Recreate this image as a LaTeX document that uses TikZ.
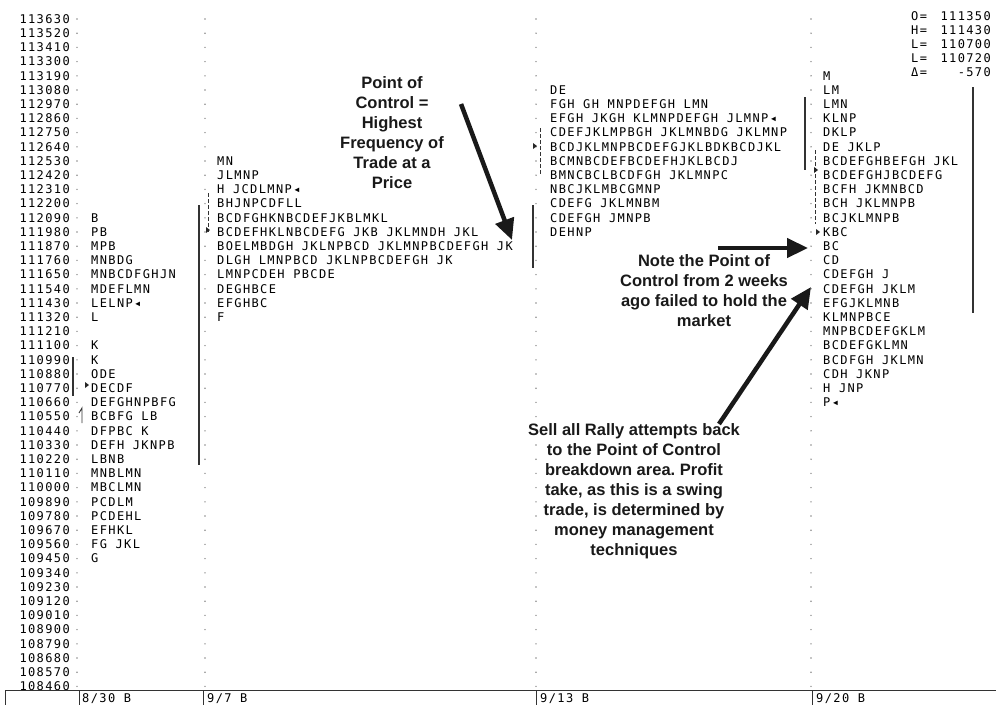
\documentclass[tikz,border=0pt]{standalone}
\usepackage{fontspec}
\usepackage{tikz}
\usetikzlibrary{arrows.meta}
\newfontfamily\chartfont[LetterSpace=11.5]{DejaVu Sans Mono}
\newfontfamily\notefont{Liberation Sans}

\begin{document}
\begin{tikzpicture}[x=1pt, y=-1pt,
    tpo/.style={font=\chartfont\fontsize{12}{12}\selectfont, inner sep=0pt, anchor=base west, text=black},
    price/.style={tpo, anchor=base east},
    note/.style={font=\notefont\bfseries\fontsize{16.5}{20}\selectfont\frenchspacing, align=center, inner sep=0pt, text=black!90},
    bigarrow/.style={-{Triangle[length=21pt, width=19pt]}, line width=4.5pt, black!90},
    vabar/.style={line width=1.8pt, black!80},
    tick/.style={black!45}]

\useasboundingbox (0,0) rectangle (996,705);

% price ladder and row ticks
\foreach \i in {0,...,47} {
    \node[price] (p\i) at (70, {19+14.2*\i+4.3}) {\the\numexpr113630-110*\i\relax};
    \fill[tick] (77, {19+14.2*\i}) circle (0.8);
    \fill[tick] (205, {19+14.2*\i}) circle (0.8);
    \fill[tick] (536, {19+14.2*\i}) circle (0.8);
    \fill[tick] (811, {19+14.2*\i}) circle (0.8);
}

% 8/30
\foreach \i/\t in {14/B, 15/PB, 16/MPB, 17/MNBDG, 18/MNBCDFGHJN, 19/MDEFLMN, 20/LELNP◂, 21/L,
    23/K, 24/K, 25/ODE, 26/DECDF, 27/DEFGHNPBFG, 28/BCBFG LB, 29/DFPBC K, 30/DEFH JKNPB,
    31/LBNB, 32/MNBLMN, 33/MBCLMN, 34/PCDLM, 35/PCDEHL, 36/EFHKL, 37/FG JKL, 38/G}
    \node[tpo] (c1-\i) at (91, {19+14.2*\i+4.3}) {\t};

% 9/7
\foreach \t [count=\i from 10] in {MN, JLMNP, H JCDLMNP◂, BHJNPCDFLL, BCDFGHKNBCDEFJKBLMKL,
    BCDEFHKLNBCDEFG JKB JKLMNDH JKL, BOELMBDGH JKLNPBCD JKLMNPBCDEFGH JK,
    DLGH LMNPBCD JKLNPBCDEFGH JK, LMNPCDEH PBCDE, DEGHBCE, EFGHBC, F}
    \node[tpo] (c2-\i) at (217, {19+14.2*\i+4.3}) {\t};

% 9/13
\foreach \t [count=\i from 5] in {DE, FGH GH MNPDEFGH LMN, EFGH JKGH KLMNPDEFGH JLMNP◂,
    CDEFJKLMPBGH JKLMNBDG JKLMNP, BCDJKLMNPBCDEFGJKLBDKBCDJKL, BCMNBCDEFBCDEFHJKLBCDJ,
    BMNCBCLBCDFGH JKLMNPC, NBCJKLMBCGMNP, CDEFG JKLMNBM, CDEFGH JMNPB, DEHNP}
    \node[tpo] (c3-\i) at (550, {19+14.2*\i+4.3}) {\t};

% 9/20
\foreach \t [count=\i from 4] in {M, LM, LMN, KLNP, DKLP, DE JKLP, BCDEFGHBEFGH JKL,
    BCDEFGHJBCDEFG, BCFH JKMNBCD, BCH JKLMNPB, BCJKLMNPB, KBC, BC, CD, CDEFGH J,
    CDEFGH JKLM, EFGJKLMNB, KLMNPBCE, MNPBCDEFGKLM, BCDEFGKLMN, BCDFGH JKLMN,
    CDH JKNP, H JNP, P◂}
    \node[tpo] (c4-\i) at (823, {19+14.2*\i+4.3}) {\t};

% summary
\foreach \k/\v [count=\i from 0] in {O=/111350, H=/111430, L=/110700, L=/110720, Δ=/-570} {
    \node[tpo] (sk\i) at (911, {19+14.2*\i+1}) {\k};
    \node[price] (sv\i) at (991, {19+14.2*\i+1}) {\v};
}

% value area bars and markers
\draw[vabar] (199,205) -- (199,465);
\draw[vabar, line width=1.4pt] (73,357) -- (73,396);
\draw[black!80, line width=0.9pt] (82,423) -- (82,408) -- (79,413);
\draw[black!80, line width=0.9pt, dash pattern=on 4pt off 2pt] (208,193) -- (208,232);
\draw[vabar] (533,205) -- (533,268);
\draw[black!80, line width=0.9pt, dash pattern=on 4pt off 2pt] (540,128) -- (540,175);
\draw[vabar] (805,97) -- (805,170);
\draw[black!80, line width=0.9pt, dash pattern=on 4pt off 2pt] (815,150) -- (815,224);
\draw[vabar, line width=1.4pt] (973,87) -- (973,313);
\fill[black!85] (85,382) -- (89,385) -- (85,388) -- cycle;
\fill[black!85] (206,227) -- (210,230) -- (206,233) -- cycle;
\fill[black!85] (533,143) -- (537,146) -- (533,149) -- cycle;
\fill[black!85] (814,167) -- (818,170) -- (814,173) -- cycle;
\fill[black!85] (816,229) -- (820,232) -- (816,235) -- cycle;

% notes
\node[note] (poc) at (392,133) {Point of\\Control =\\Highest\\Frequency of\\Trade at a\\Price};
\node[note] (fail) at (704,291) {Note the Point of\\Control from 2 weeks\\ago failed to hold the\\market};
\node[note] (sell) at (634,491) {Sell all Rally attempts back\\to the Point of Control\\breakdown area. Profit\\take, as this is a swing\\trade, is determined by\\money management\\techniques};

\coordinate (poc-from) at (461,104);
\coordinate (poc-to) at (512,240);
\coordinate (fail-from) at (718,248);
\coordinate (fail-to) at (808,248);
\coordinate (sell-from) at (719,424);
\coordinate (sell-to) at (811,287);
\draw[bigarrow] (poc-from) -- (poc-to);
\draw[bigarrow] (fail-from) -- (fail-to);
\draw[bigarrow] (sell-from) -- (sell-to);

% date axis
\draw[black!80, line width=1pt] (5,690) -- (996,690);
\foreach \x in {5, 79, 203, 536, 812}
    \draw[black!80, line width=1pt] (\x,690) -- (\x,705);
\node[tpo] (d1) at (82,702) {8/30 B};
\node[tpo] (d2) at (207,702) {9/7 B};
\node[tpo] (d3) at (540,702) {9/13 B};
\node[tpo] (d4) at (816,702) {9/20 B};
\end{tikzpicture}
\end{document}
